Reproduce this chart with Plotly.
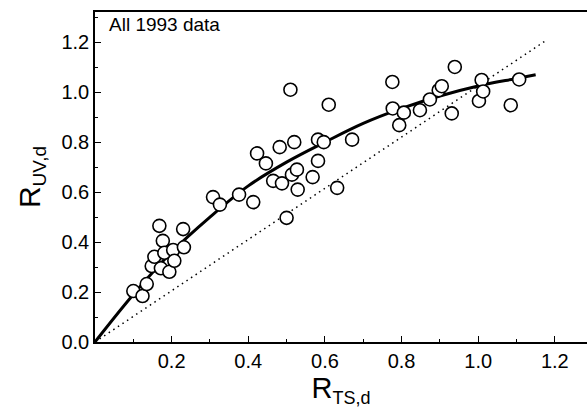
import plotly.graph_objects as go

# Observed data points (R_TS,d , R_UV,d)
x_obs = [0.100, 0.124, 0.135, 0.148, 0.155, 0.168, 0.172, 0.177, 0.181, 0.194,
         0.204, 0.207, 0.230, 0.232,
         0.308, 0.326, 0.376, 0.413, 0.423, 0.446, 0.465, 0.488, 0.482, 0.500,
         0.510, 0.514, 0.520, 0.527, 0.529, 0.568, 0.582, 0.582, 0.597, 0.610,
         0.632, 0.671,
         0.776, 0.777, 0.794, 0.806, 0.848, 0.874, 0.897, 0.905, 0.931, 0.939,
         1.002, 1.009, 1.013, 1.085, 1.107]
y_obs = [0.204, 0.184, 0.232, 0.304, 0.341, 0.465, 0.295, 0.405, 0.357, 0.281,
         0.368, 0.325, 0.452, 0.379,
         0.580, 0.550, 0.590, 0.560, 0.755, 0.715, 0.645, 0.635, 0.780, 0.497,
         1.010, 0.670, 0.800, 0.690, 0.610, 0.660, 0.725, 0.810, 0.800, 0.950,
         0.617, 0.810,
         1.041, 0.935, 0.868, 0.918, 0.928, 0.971, 1.008, 1.024, 0.915, 1.101,
         0.965, 1.049, 1.003, 0.948, 1.051]

# Fitted curve
x_fit = [0.0, 0.1, 0.2, 0.3, 0.4, 0.5, 0.6, 0.7, 0.8, 0.9, 1.0, 1.1, 1.15]
y_fit = [0.0, 0.19, 0.36, 0.50, 0.625, 0.72, 0.80, 0.875, 0.935, 0.985, 1.025, 1.055, 1.07]

# 1:1 reference line
x_ref = [0.0, 1.18]
y_ref = [0.0, 1.21]

x_ticks = [0.2, 0.4, 0.6, 0.8, 1.0, 1.2]
x_tick_labels = ["0.2", "0.4", "0.6", "0.8", "1.0", "1.2"]
y_ticks = [0.0, 0.2, 0.4, 0.6, 0.8, 1.0, 1.2]
y_tick_labels = ["0.0", "0.2", "0.4", "0.6", "0.8", "1.0", "1.2"]

FONT = "Liberation Sans, Arial, Helvetica, sans-serif"

fig = go.Figure()
fig.add_trace(go.Scatter(x=x_ref, y=y_ref, mode="lines",
                         line=dict(color="black", width=1.5, dash="1.5px,4px"),
                         showlegend=False, hoverinfo="skip"))
fig.add_trace(go.Scatter(x=x_fit, y=y_fit, mode="lines",
                         line=dict(color="black", width=3, shape="spline"),
                         showlegend=False, hoverinfo="skip"))
fig.add_trace(go.Scatter(x=x_obs, y=y_obs, mode="markers",
                         marker=dict(symbol="circle", size=13, color="white",
                                     line=dict(color="black", width=1.6)),
                         showlegend=False))

fig.add_annotation(x=0.0, y=1.27, xref="x", yref="y", xanchor="left", yanchor="middle",
                   xshift=12, text="All 1993 data", showarrow=False,
                   font=dict(family=FONT, size=19, color="black"))

axis_common = dict(showgrid=False, zeroline=False, showline=True, linecolor="black",
                   linewidth=1.6, ticks="inside", ticklen=6, tickwidth=1.3,
                   tickcolor="black", automargin=False,
                   tickfont=dict(family=FONT, size=20, color="black"))

fig.update_xaxes(range=[0, 1.284], tickvals=x_ticks, ticktext=x_tick_labels,
                 mirror=True,
                 minor=dict(dtick=0.1, tick0=0, ticks="inside", ticklen=3, tickcolor="black"),
                 title=dict(text="R<sub><span style='font-size:18px'>TS,d</span></sub>",
                            font=dict(family=FONT, size=29, color="black"), standoff=0),
                 **axis_common)
fig.update_yaxes(range=[0, 1.321], tickvals=y_ticks, ticktext=y_tick_labels,
                 minor=dict(dtick=0.1, tick0=0, ticks="inside", ticklen=3, tickcolor="black"),
                 title=dict(text="R<sub><span style='font-size:19px'>UV,d</span></sub>",
                            font=dict(family=FONT, size=30, color="black"), standoff=12),
                 **axis_common)

fig.update_layout(width=587, height=411, margin=dict(l=95, r=0, t=12, b=69),
                  plot_bgcolor="white", paper_bgcolor="white")

fig.write_html("out.html", config={"displayModeBar": False},
               post_script="document.body.style.margin='0';document.body.style.padding='0';")
